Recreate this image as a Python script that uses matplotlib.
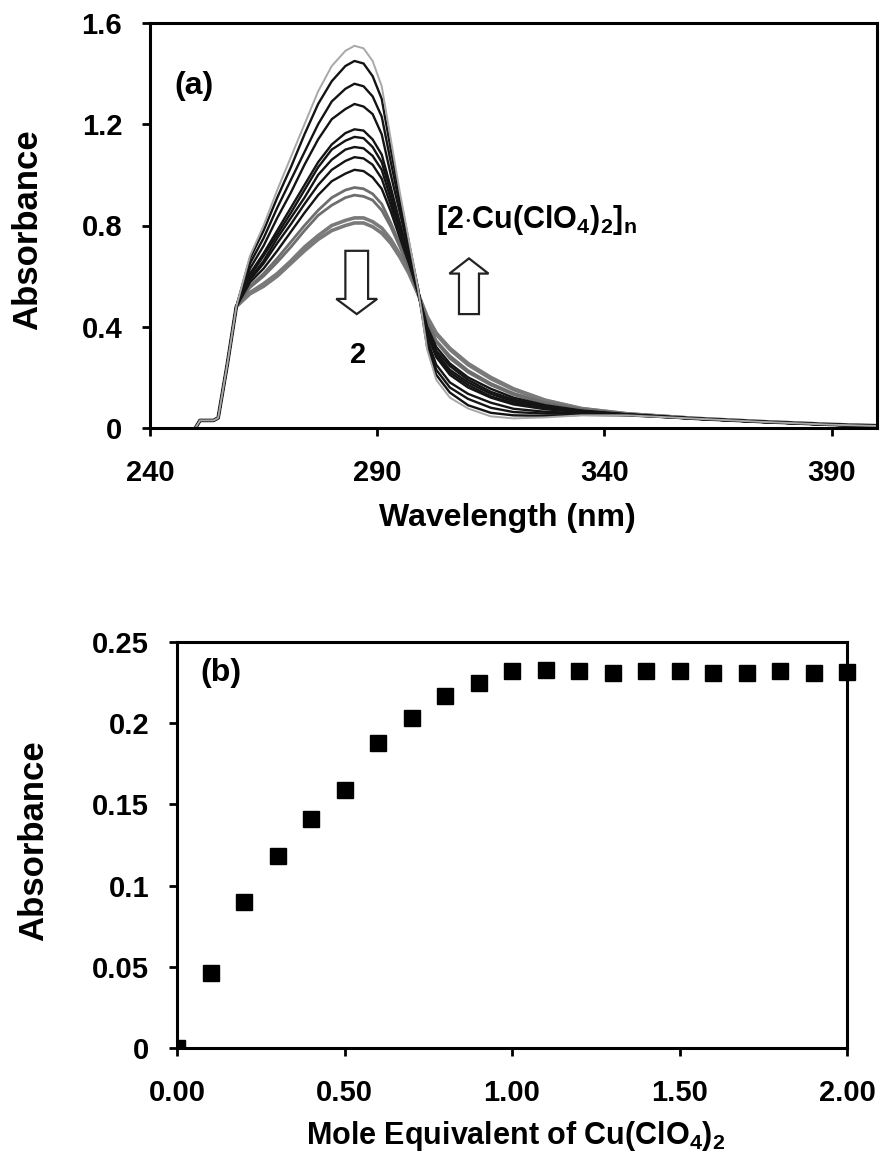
import matplotlib
matplotlib.use("Agg")
import matplotlib.pyplot as plt
from matplotlib.patches import Polygon

plt.rcParams['font.family'] = ['Liberation Sans', 'DejaVu Sans']
plt.rcParams['font.weight'] = 'bold'
plt.rcParams['mathtext.fontset'] = 'custom'
plt.rcParams['mathtext.rm'] = 'Liberation Sans:bold'
plt.rcParams['mathtext.default'] = 'rm'

# ---------------- data: panel (a) UV-vis spectra ----------------
wavelength = [250, 251, 254, 255, 257, 259,
              262, 265, 268, 271, 274, 277, 280, 283,
              285, 287, 289, 291, 293, 295, 297, 299, 301, 303,
              306, 310, 315, 320, 327, 335, 345, 360, 375, 390, 400]
onset = [0.0, 0.03, 0.03, 0.04, 0.25, 0.48]

spec_00 = [0.68, 0.80, 0.94, 1.07, 1.20, 1.33, 1.43, 1.49, 1.51, 1.50, 1.45, 1.35, 1.14, 0.93, 0.74, 0.55, 0.31, 0.19, 0.12, 0.077, 0.046, 0.038, 0.042, 0.050, 0.050, 0.037, 0.024, 0.013, 0.008]
spec_01 = [0.67, 0.78, 0.91, 1.03, 1.16, 1.28, 1.37, 1.43, 1.45, 1.44, 1.39, 1.30, 1.10, 0.91, 0.73, 0.55, 0.32, 0.21, 0.14, 0.09, 0.06, 0.05, 0.048, 0.052, 0.050, 0.037, 0.024, 0.013, 0.008]
spec_02 = [0.65, 0.75, 0.87, 0.98, 1.09, 1.20, 1.29, 1.34, 1.36, 1.35, 1.31, 1.23, 1.05, 0.88, 0.71, 0.55, 0.34, 0.23, 0.16, 0.115, 0.08, 0.063, 0.057, 0.056, 0.051, 0.037, 0.024, 0.013, 0.008]
spec_03 = [0.63, 0.72, 0.83, 0.93, 1.04, 1.14, 1.22, 1.26, 1.28, 1.27, 1.24, 1.16, 1.00, 0.85, 0.70, 0.54, 0.35, 0.25, 0.18, 0.135, 0.10, 0.076, 0.064, 0.059, 0.052, 0.037, 0.024, 0.013, 0.008]
spec_04 = [0.61, 0.69, 0.78, 0.87, 0.96, 1.05, 1.12, 1.165, 1.18, 1.175, 1.14, 1.08, 0.95, 0.81, 0.68, 0.54, 0.37, 0.28, 0.21, 0.16, 0.12, 0.093, 0.074, 0.063, 0.053, 0.037, 0.024, 0.013, 0.008]
spec_05 = [0.60, 0.68, 0.765, 0.85, 0.94, 1.03, 1.10, 1.135, 1.15, 1.145, 1.11, 1.05, 0.93, 0.80, 0.67, 0.54, 0.38, 0.285, 0.22, 0.17, 0.125, 0.098, 0.077, 0.064, 0.053, 0.037, 0.024, 0.013, 0.008]
spec_06 = [0.59, 0.66, 0.75, 0.83, 0.91, 1.00, 1.06, 1.10, 1.11, 1.105, 1.075, 1.02, 0.905, 0.78, 0.665, 0.54, 0.385, 0.295, 0.23, 0.18, 0.135, 0.105, 0.081, 0.065, 0.053, 0.037, 0.024, 0.013, 0.008]
spec_07 = [0.585, 0.65, 0.73, 0.805, 0.885, 0.96, 1.02, 1.055, 1.07, 1.065, 1.04, 0.985, 0.88, 0.77, 0.66, 0.535, 0.39, 0.305, 0.245, 0.19, 0.143, 0.112, 0.085, 0.067, 0.054, 0.037, 0.024, 0.013, 0.008]
spec_08 = [0.575, 0.63, 0.70, 0.775, 0.85, 0.92, 0.975, 1.005, 1.02, 1.015, 0.99, 0.945, 0.855, 0.75, 0.65, 0.535, 0.40, 0.32, 0.255, 0.20, 0.155, 0.12, 0.09, 0.069, 0.054, 0.037, 0.024, 0.013, 0.008]
spec_09 = [0.56, 0.61, 0.67, 0.735, 0.80, 0.86, 0.91, 0.94, 0.95, 0.945, 0.925, 0.885, 0.81, 0.725, 0.635, 0.535, 0.415, 0.34, 0.275, 0.22, 0.17, 0.132, 0.096, 0.072, 0.055, 0.038, 0.025, 0.014, 0.009]
spec_10 = [0.555, 0.60, 0.655, 0.715, 0.78, 0.84, 0.88, 0.91, 0.92, 0.915, 0.90, 0.86, 0.795, 0.715, 0.63, 0.533, 0.42, 0.345, 0.285, 0.227, 0.176, 0.137, 0.10, 0.073, 0.055, 0.038, 0.025, 0.014, 0.009]
spec_11 = [0.535, 0.57, 0.61, 0.66, 0.715, 0.76, 0.80, 0.82, 0.83, 0.83, 0.815, 0.79, 0.745, 0.685, 0.615, 0.53, 0.435, 0.37, 0.31, 0.25, 0.195, 0.152, 0.108, 0.076, 0.056, 0.038, 0.025, 0.014, 0.009]
spec_12 = [0.53, 0.56, 0.60, 0.65, 0.70, 0.745, 0.78, 0.80, 0.81, 0.81, 0.795, 0.77, 0.73, 0.675, 0.61, 0.53, 0.44, 0.375, 0.315, 0.255, 0.20, 0.155, 0.11, 0.077, 0.056, 0.038, 0.025, 0.014, 0.009]

spectra = [spec_00, spec_01, spec_02, spec_03, spec_04, spec_05, spec_06,
           spec_07, spec_08, spec_09, spec_10, spec_11, spec_12]
spec_colors = ['#a8a8a8'] + ['#141414'] * 8 + ['#6e6e6e', '#6e6e6e', '#7a7a7a', '#7a7a7a']
spec_widths = [1.4] + [1.7] * 8 + [2.0, 2.0, 2.6, 2.6]

# ---------------- data: panel (b) titration ----------------
mole_eq = [0.0, 0.1, 0.2, 0.3, 0.4, 0.5, 0.6, 0.7, 0.8, 0.9, 1.0,
           1.1, 1.2, 1.3, 1.4, 1.5, 1.6, 1.7, 1.8, 1.9, 2.0]
absorb_b = [0.0, 0.046, 0.090, 0.118, 0.141, 0.159, 0.188, 0.203, 0.217, 0.225, 0.232,
            0.233, 0.232, 0.231, 0.232, 0.232, 0.231, 0.231, 0.232, 0.231, 0.2315]

xticks_a = [240, 290, 340, 390]
yticks_a = [0, 0.4, 0.8, 1.2, 1.6]
yticklabels_a = ['0', '0.4', '0.8', '1.2', '1.6']
xticks_b = [0.0, 0.5, 1.0, 1.5, 2.0]
xticklabels_b = ['0.00', '0.50', '1.00', '1.50', '2.00']
yticks_b = [0, 0.05, 0.1, 0.15, 0.2, 0.25]
yticklabels_b = ['0', '0.05', '0.1', '0.15', '0.2', '0.25']

# ---------------- figure ----------------
W, H = 880, 1161
fig = plt.figure(figsize=(W / 100, H / 100), dpi=100)
fig.patch.set_facecolor('white')

axa = fig.add_axes([150 / W, 1 - 428 / H, (877 - 150) / W, (428 - 23) / H])
axb = fig.add_axes([177 / W, 1 - 1048 / H, (847 - 177) / W, (1048 - 642) / H])

tick_fs = 21
for ax in (axa, axb):
    for s in ax.spines.values():
        s.set_linewidth(2.2)
        s.set_color('black')
    ax.tick_params(direction='out', length=6, width=2, labelsize=tick_fs)
    ax.tick_params(axis='y', pad=14)
    ax.tick_params(axis='x', pad=16)

# panel (a)
for y, c, lw in zip(spectra[::-1], spec_colors[::-1], spec_widths[::-1]):
    axa.plot(wavelength, onset + y, color=c, lw=lw, solid_joinstyle='round')
axa.set_xlim(240, 400)
axa.set_ylim(0, 1.6)
axa.set_xticks(xticks_a)
axa.set_xticklabels([str(v) for v in xticks_a], fontweight='bold')
axa.set_yticks(yticks_a)
axa.set_yticklabels(yticklabels_a, fontweight='bold')
axa.set_xlabel('Wavelength (nm)', fontsize=23, fontweight='bold')
axa.set_ylabel('Absorbance', fontsize=25, fontweight='bold')
axa.xaxis.set_label_coords(0.491, -0.185)
axa.yaxis.set_label_coords(-0.145, 0.49)
axa.text(245.3, 1.35, '(a)', fontsize=23, fontweight='bold', ha='left', va='center')
axa.text(302.9, 0.82, r'[2$\cdot$Cu(ClO$_4$)$_2$]$_n$', fontsize=22, fontweight='bold',
         ha='left', va='center')
axa.text(285.8, 0.29, '2', fontsize=21, fontweight='bold', ha='center', va='center')


def block_arrow(ax, xc, y_tail, y_head_base, y_tip, shaft_w, head_w):
    hw, sw = head_w / 2, shaft_w / 2
    pts = [(xc - sw, y_tail), (xc + sw, y_tail), (xc + sw, y_head_base),
           (xc + hw, y_head_base), (xc, y_tip), (xc - hw, y_head_base),
           (xc - sw, y_head_base)]
    ax.add_patch(Polygon(pts, closed=True, facecolor='white', edgecolor='#222222',
                         lw=1.6, zorder=5))


block_arrow(axa, 285.5, 0.70, 0.51, 0.45, 5.0, 9.0)
block_arrow(axa, 310.2, 0.45, 0.61, 0.67, 4.4, 8.6)

# panel (b)
axb.plot(mole_eq[1:], absorb_b[1:], ls='none', marker='s', ms=11, color='black',
         clip_on=False, zorder=5)
axb.plot(mole_eq[:1], absorb_b[:1], ls='none', marker='s', ms=11, color='black',
         clip_on=True, zorder=5)
axb.set_xlim(0, 2.0)
axb.set_ylim(0, 0.25)
axb.set_xticks(xticks_b)
axb.set_xticklabels(xticklabels_b, fontweight='bold')
axb.set_yticks(yticks_b)
axb.set_yticklabels(yticklabels_b, fontweight='bold')
axb.set_xlabel(r'Mole Equivalent of Cu(ClO$_4$)$_2$', fontsize=22, fontweight='bold')
axb.set_ylabel('Absorbance', fontsize=25, fontweight='bold')
axb.xaxis.set_label_coords(0.506, -0.175)
axb.yaxis.set_label_coords(-0.19, 0.51)
axb.text(0.07, 0.231, '(b)', fontsize=23, fontweight='bold', ha='left', va='center')

fig.savefig('out.png', dpi=100, facecolor='white')
